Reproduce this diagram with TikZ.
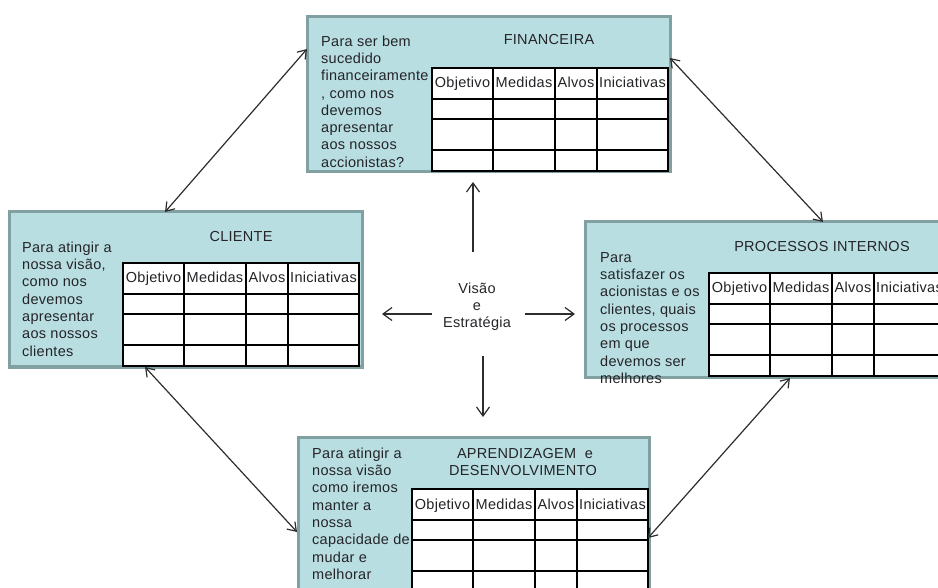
\documentclass[tikz,border=0pt]{standalone}
\usepackage{fontspec}
\setmainfont[LetterSpace=2]{Liberation Sans}
\usetikzlibrary{arrows.meta,calc}

\definecolor{boxfill}{RGB}{184,222,226}
\definecolor{boxedge}{RGB}{128,160,162}
\definecolor{ink}{RGB}{36,36,40}
\definecolor{arrowink}{RGB}{45,45,45}

\tikzset{
  txt/.style={font=\fontsize{14.5}{17.3}\selectfont, text=ink, inner sep=0pt},
  persp/.style={draw=boxedge, fill=boxfill, line width=3pt, anchor=north west,
    inner sep=0pt, outer sep=0pt},
  title/.style={txt, anchor=base, align=center},
  question/.style={txt, anchor=north west, align=left},
  hdr/.style={txt, anchor=base},
  link/.style={draw=arrowink, line width=1.2pt,
    {Straight Barb[length=8pt,width=11pt]}-{Straight Barb[length=8pt,width=11pt]}},
  ray/.style={draw=arrowink, line width=1.2pt,
    -{Straight Barb[length=9pt,width=13pt]}},
  % objectives / measures / targets / initiatives grid
  bsctable/.pic={
    \fill[white] (0,0) rectangle (236,103);
    \draw[line width=1.2pt] (0,0) rectangle (236,103);
    \foreach \yy in {31,51,82} \draw[line width=1.2pt] (0,\yy) -- (236,\yy);
    \foreach \xx in {61,123,165} \draw[line width=1.2pt] (\xx,0) -- (\xx,103);
    \node[hdr] (-obj) at (30.5,20) {Objetivo};
    \node[hdr] (-med) at (92,20) {Medidas};
    \node[hdr] (-alv) at (144,20) {Alvos};
    \node[hdr] (-ini) at (200.5,20) {Iniciativas};
  }
}

\begin{document}
\begin{tikzpicture}[x=1pt,y=-1pt]
\useasboundingbox (0,0) rectangle (938,588);
\clip (0,0) rectangle (938,588);

% the four perspectives
\node[persp, minimum width=363pt, minimum height=155pt] (fin) at (307,17) {};
\node[persp, minimum width=353pt, minimum height=155pt] (cli) at (9,212) {};
\node[persp, minimum width=370pt, minimum height=155pt] (pro) at (585,222) {};
\node[persp, minimum width=351pt, minimum height=170pt] (apr) at (298,437) {};

% tables
\pic (fintab) at (432,68) {bsctable};
\pic (clitab) at (123,263) {bsctable};
\pic (protab) at (709,273) {bsctable};
\pic (aprtab) at (412,489) {bsctable};

% titles
\node[title] (fintitle) at (549,45) {FINANCEIRA};
\node[title] (clititle) at (241,242) {CLIENTE};
\node[title] (protitle) at (822,252) {PROCESSOS INTERNOS};
\node[title] (aprtitle1) at (525,458) {APRENDIZAGEM\ \ e};
\node[title] (aprtitle2) at (523,475) {DESENVOLVIMENTO};

% guiding questions
\node[question] (finq) at (321,35) {\rule{0pt}{11pt}Para ser bem\\sucedido\\financeiramente\\, como nos\\devemos\\apresentar\\aos nossos\\accionistas?};
\node[question] (cliq) at (22,241) {\rule{0pt}{11pt}Para atingir a\\nossa visão,\\como nos\\devemos\\apresentar\\aos nossos\\clientes};
\node[question] (proq) at (600,251) {\rule{0pt}{11pt}Para\\satisfazer os\\acionistas e os\\clientes, quais\\os processos\\em que\\devemos ser\\melhores};
\node[question] (aprq) at (312,447) {\rule{0pt}{11pt}Para atingir a\\nossa visão\\como iremos\\manter a\\nossa\\capacidade de\\mudar e\\melhorar};

% centre
\node[txt, anchor=north, align=center] (vis) at (477,282) {\rule{0pt}{11pt}Visão\\e\\Estratégia};

\coordinate (upA) at (473,252);   \coordinate (upB) at (473,182);
\coordinate (lfA) at (432,314);   \coordinate (lfB) at (382,314);
\coordinate (rtA) at (525,314);   \coordinate (rtB) at (575,314);
\coordinate (dnA) at (483,356);   \coordinate (dnB) at (483,417);
\draw[ray] (upA) -- (upB);
\draw[ray] (lfA) -- (lfB);
\draw[ray] (rtA) -- (rtB);
\draw[ray] (dnA) -- (dnB);

% links between perspectives
\draw[link] ($(fin.north west)+(0,32)$) -- ($(cli.north west)+(156,0)$);
\draw[link] ($(fin.north east)+(0,41)$) -- ($(pro.north west)+(238,0)$);
\draw[link] ($(cli.south west)+(136,0)$) -- ($(apr.north west)+(-1,95)$);
\draw[link] ($(pro.south west)+(205,1)$) -- ($(apr.north east)+(-1,101)$);
\end{tikzpicture}
\end{document}
